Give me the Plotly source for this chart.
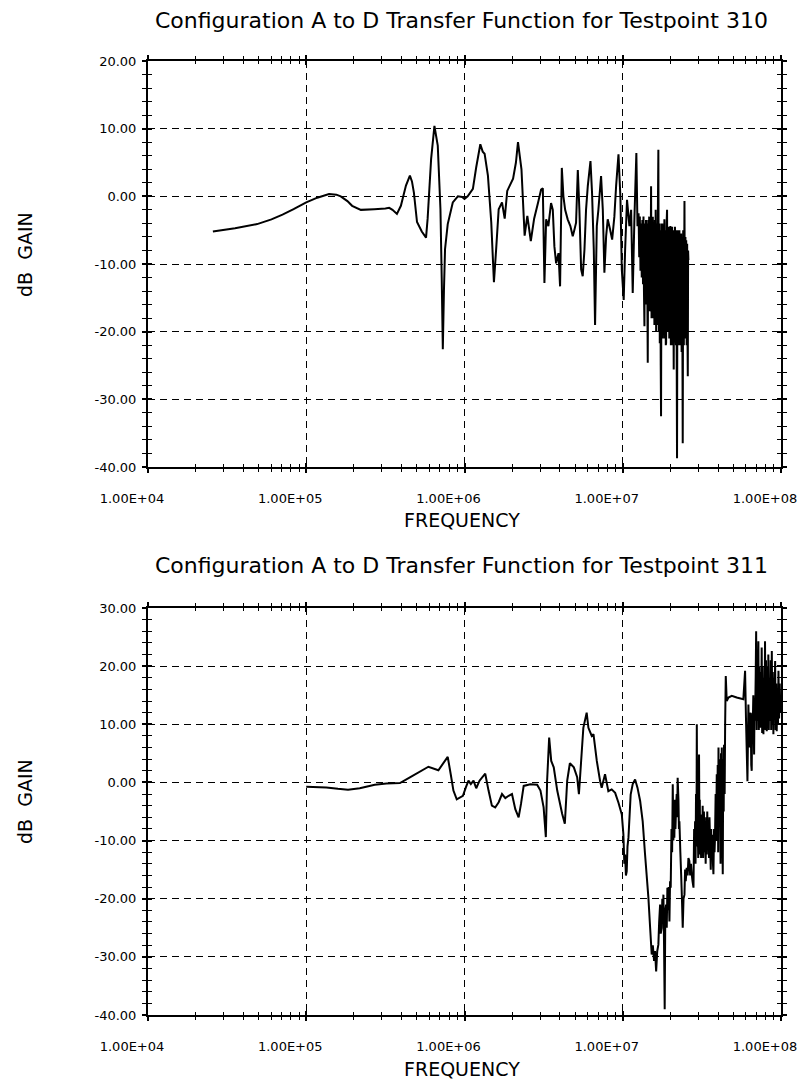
import numpy as np
import plotly.graph_objects as go

# ---------------------------------------------------------------------------
# Measured transfer functions (frequency given as log10 of Hz, gain in dB)
# ---------------------------------------------------------------------------
tp310_log10_hz = [
    4.41, 4.55, 4.69, 4.78, 4.85, 4.92, 5.00, 5.07, 5.144, 5.19,
    5.218, 5.26, 5.29, 5.345, 5.43, 5.50, 5.524, 5.545, 5.573, 5.598,
    5.63, 5.655, 5.668, 5.68, 5.70, 5.73, 5.757, 5.767, 5.789, 5.81,
    5.831, 5.848, 5.856, 5.863, 5.870, 5.877, 5.894, 5.926, 5.958, 5.985,
    6.000, 6.020, 6.053, 6.074, 6.100, 6.115, 6.127, 6.148, 6.169, 6.186,
    6.200, 6.216, 6.237, 6.254, 6.270, 6.307, 6.325, 6.338, 6.360, 6.380,
    6.397, 6.419, 6.440, 6.465, 6.484, 6.495, 6.505, 6.516, 6.530, 6.547,
    6.558, 6.568, 6.579, 6.594, 6.604, 6.615, 6.625, 6.636, 6.652, 6.669,
    6.684, 6.695, 6.705, 6.716, 6.726, 6.737, 6.747, 6.758, 6.768, 6.779,
    6.796, 6.806, 6.817, 6.825, 6.836, 6.846, 6.863, 6.874, 6.884, 6.895,
    6.905, 6.920, 6.933, 6.947, 6.958, 6.973, 6.985, 6.994, 7.006, 7.015,
    7.027, 7.042, 7.053, 7.063, 7.074, 7.086, 7.093,
    7.100, 7.104, 7.108, 7.112, 7.116, 7.120, 7.124, 7.128, 7.131, 7.134,
    7.137, 7.140, 7.143, 7.147, 7.150, 7.153, 7.156, 7.158, 7.161, 7.164,
    7.167, 7.169, 7.172, 7.175, 7.179, 7.182, 7.185, 7.188, 7.190, 7.193,
    7.196, 7.200, 7.203, 7.206, 7.208, 7.211, 7.214, 7.218, 7.221, 7.225,
    7.228, 7.231, 7.234, 7.237, 7.240, 7.242, 7.245, 7.248, 7.250, 7.253,
    7.256, 7.259, 7.263, 7.266, 7.269, 7.272, 7.274, 7.277, 7.280, 7.283,
    7.286, 7.288, 7.291, 7.294, 7.297, 7.299, 7.301, 7.304, 7.307, 7.310,
    7.312, 7.315, 7.318, 7.322, 7.325, 7.328, 7.330, 7.333, 7.336, 7.339,
    7.341, 7.343, 7.346, 7.349, 7.352, 7.355, 7.358, 7.360, 7.363, 7.366,
    7.369, 7.372, 7.375, 7.379, 7.382, 7.386, 7.390, 7.393, 7.396, 7.398,
    7.401, 7.404, 7.407, 7.409, 7.411, 7.413, 7.415,
]
tp310_gain_db = [
    -5.2, -4.7, -4.1, -3.4, -2.7, -1.9, -0.9, -0.2, 0.35, 0.25,
    0.0, -0.7, -1.4, -2.0, -1.9, -1.8, -1.7, -2.0, -2.6, -1.4,
    1.6, 3.05, 2.2, 0.6, -3.8, -5.2, -6.1, -3.3, 5.5, 10.4,
    7.5, -1.9, -12.0, -22.6, -14.0, -7.8, -4.1, -0.9, 0.0, -0.1,
    -0.4, 0.0, 1.1, 4.3, 7.7, 6.6, 6.3, 3.05, -3.8, -12.7,
    -7.8, -1.9, -0.9, -3.3, 0.8, 2.6, 5.0, 8.0, 4.0, -5.8,
    -2.9, -6.6, -3.3, -0.9, 1.0, 1.2, -12.8, -3.4, -4.4, -1.0,
    -2.0, -7.4, -9.9, -8.4, -13.3, 4.2, 0.0, -2.0, -3.4, -4.4,
    -5.9, -4.9, -3.9, 3.9, -2.0, -10.8, -11.8, -7.9, -2.0, 1.5,
    5.2, 0.5, -7.9, -19.0, -4.4, -2.0, 3.0, -2.0, -11.3, -5.9,
    -3.4, -4.9, -6.4, -3.0, 1.5, 6.2, 0.0, -10.8, -15.3, -7.9,
    -0.5, -4.4, -2.0, -14.3, -3.0, 6.4, -4.4,
    -2.5, -9.0, -3.0, -11.0, -4.0, -12.0, -3.5, -13.0, -3.0, -14.0,
    -19.2, -4.0, -15.0, -3.5, -16.0, -4.0, -17.0, -24.6, -3.5, -16.0,
    -3.0, -17.0, -4.0, -15.0, 1.5, -18.0, -4.0, -17.0, -3.0, -18.0,
    -4.0, -19.0, -3.5, -18.0, -2.0, -20.0, -4.0, -19.0, -5.0, 6.9,
    -20.0, -4.0, -21.7, -5.0, -25.0, -32.5, -4.0, -20.0, -4.0, -21.0,
    -5.0, -20.0, -3.4, -21.0, -5.0, -22.0, -21.7, -4.0, -2.0, -20.0,
    -5.0, -19.0, -4.5, -21.0, -5.0, -20.0, -4.4, -22.0, -5.0, -19.2,
    -4.5, -22.0, -5.0, -25.6, -5.0, -21.0, -4.5, -20.0, -22.0, -5.0,
    -24.0, -38.7, -5.0, -21.0, -5.5, -22.0, -5.0, -21.0, -6.0, -22.0,
    -5.5, -23.0, -6.0, -36.5, -5.0, -22.0, -0.7, -21.0, -6.0, -20.0,
    -6.5, -22.0, -7.0, -20.0, -26.6, -8.0, -9.4,
]

tp311_log10_hz = [
    5.000, 5.127, 5.200, 5.264, 5.338, 5.433, 5.507, 5.592, 5.655, 5.772,
    5.835, 5.894, 5.913, 5.930, 5.951, 5.990, 6.008, 6.025, 6.040, 6.057,
    6.074, 6.095, 6.131, 6.152, 6.173, 6.194, 6.216, 6.237, 6.258, 6.279,
    6.300, 6.321, 6.342, 6.357, 6.374, 6.416, 6.459, 6.480, 6.500, 6.514,
    6.522, 6.535, 6.548, 6.564, 6.586, 6.617, 6.634, 6.649, 6.666, 6.691,
    6.712, 6.723, 6.730, 6.751, 6.772, 6.783, 6.804, 6.815, 6.836, 6.857,
    6.867, 6.888, 6.909, 6.930, 6.952, 6.973, 6.994, 7.004, 7.010, 7.015,
    7.020, 7.025, 7.030, 7.036, 7.050, 7.063, 7.078, 7.093, 7.110, 7.126,
    7.141, 7.162, 7.173, 7.183, 7.190, 7.198, 7.204,
    7.211, 7.218, 7.225, 7.230, 7.236, 7.240, 7.246, 7.250, 7.254, 7.257,
    7.261, 7.265, 7.269, 7.274, 7.278, 7.282, 7.286, 7.290, 7.295, 7.299,
    7.303, 7.308, 7.312, 7.316, 7.320, 7.323, 7.326, 7.330, 7.333, 7.337,
    7.341, 7.344, 7.347, 7.352, 7.355, 7.358, 7.364, 7.369, 7.374, 7.379,
    7.384, 7.390, 7.394, 7.398, 7.404, 7.410, 7.415, 7.421, 7.426, 7.431,
    7.436, 7.441, 7.447,
    7.451, 7.455, 7.457, 7.460, 7.463, 7.466, 7.468, 7.471, 7.474, 7.477,
    7.480, 7.482, 7.485, 7.487, 7.489, 7.492, 7.495, 7.499, 7.502, 7.505,
    7.508, 7.510, 7.513, 7.517, 7.520, 7.524, 7.527, 7.531, 7.534, 7.538,
    7.541, 7.545, 7.548, 7.552, 7.556, 7.559, 7.562, 7.566, 7.570, 7.573,
    7.577, 7.580, 7.583, 7.587, 7.590, 7.594, 7.597, 7.600, 7.603, 7.605,
    7.608, 7.612, 7.615, 7.618, 7.621, 7.624, 7.626, 7.629, 7.632, 7.635,
    7.638, 7.640, 7.644, 7.647, 7.651,
    7.657, 7.668, 7.689, 7.720, 7.762, 7.773, 7.779, 7.788, 7.794,
    7.800, 7.804, 7.809, 7.812, 7.815, 7.818, 7.821, 7.825, 7.830, 7.833,
    7.836, 7.840, 7.843, 7.846, 7.849, 7.851, 7.854, 7.857, 7.860, 7.863,
    7.866, 7.868, 7.871, 7.875, 7.878, 7.881, 7.884, 7.887, 7.889, 7.892,
    7.896, 7.899, 7.902, 7.905, 7.908, 7.910, 7.914, 7.917, 7.920, 7.923,
    7.926, 7.929, 7.931, 7.935, 7.938, 7.942, 7.945, 7.948, 7.952, 7.955,
    7.958, 7.963, 7.966, 7.970, 7.973, 7.977, 7.981, 7.984, 7.988, 7.992,
    7.996, 7.999,
]
tp311_gain_db = [
    -0.74, -0.86, -1.1, -1.26, -1.0, -0.4, -0.17, -0.11, 0.86, 2.7,
    2.1, 4.4, 1.4, -1.4, -2.9, -2.3, -0.9, 0.3, -0.3, 0.3,
    -1.0, 0.3, 1.5, -1.4, -4.0, -4.3, -3.4, -2.0, -2.7, -2.3,
    -2.0, -4.6, -6.0, -3.7, -0.6, -0.3, -0.4, -1.4, -4.3, -9.4,
    0.3, 7.7, 3.7, 2.6, -1.4, -5.4, -7.1, 0.3, 3.3, 2.6,
    0.9, -2.0, 0.8, 9.4, 12.0, 9.4, 8.0, 8.3, 3.7, 0.2,
    -0.9, 1.4, -1.5, -1.2, -1.8, -3.5, -5.5, -8.9, -14.0, -12.4,
    -16.0, -15.3, -11.0, -9.5, -2.1, -0.3, 0.5, -0.9, -3.2, -6.7,
    -12.4, -19.8, -25.0, -29.6, -28.0, -30.7, -29.0,
    -32.5, -29.0, -27.9, -24.0, -21.0, -26.0, -25.0, -20.0, -24.0, -19.3,
    -28.0, -39.0, -22.0, -21.0, -25.0, -18.1, -22.0, -18.0, -23.9, -17.0,
    -18.1, -8.0, -12.0, -0.3, -10.0, -4.0, -9.5, -3.0, -8.0, -4.4,
    -2.0, -6.0, 0.8, -3.0, -8.0, -6.7, -12.0, -15.8, -20.0, -25.0,
    -20.0, -19.3, -15.0, -17.0, -14.7, -16.0, -13.0, -13.5, -16.0, -14.0,
    -15.8, -17.0, -18.1,
    -8.0, -12.0, -6.7, -14.0, -2.0, -9.0, 10.0, -11.0, -7.8, -13.0,
    0.0, 4.8, -10.0, -3.0, -12.4, -6.0, -13.0, -5.5, -11.0, -4.0,
    -13.0, -11.2, -5.0, -12.0, -7.2, -14.0, -6.0, -12.4, -5.0, -11.0,
    -7.8, -13.0, -6.0, -10.1, -15.0, -8.0, -12.4, -9.0, -14.0, -15.8,
    -8.0, -12.0, -9.5, -2.0, -10.0, 1.4, -8.0, 3.0, -12.0, 6.0,
    -6.0, 4.0, -3.2, -14.0, 5.0, -10.0, 6.0, -8.0, -15.8, 4.0,
    -5.0, 6.5, -2.0, 10.0, 18.3,
    14.0, 14.6, 14.9, 14.6, 14.3, 19.2, 10.6, 0.2, 13.4,
    6.0, 12.0, 10.6, 3.0, 2.0, 12.0, 8.8, 15.0, 4.8, 14.0,
    10.6, 18.0, 26.0, 9.0, 20.0, 10.6, 18.0, 24.3, 9.0, 20.0,
    12.0, 9.4, 19.0, 10.0, 23.2, 8.5, 20.0, 11.0, 8.3, 18.0,
    10.0, 24.3, 9.0, 21.0, 11.0, 8.8, 20.0, 10.0, 22.0, 9.0,
    18.0, 12.0, 10.6, 21.0, 9.0, 22.6, 10.0, 19.0, 8.3, 18.0,
    11.0, 20.9, 9.0, 17.0, 8.8, 16.0, 10.0, 19.2, 11.0, 17.0,
    12.0, 15.0,
]

# Axis annotation values
decade_hz = [1e4, 1e5, 1e6, 1e7, 1e8]
decade_labels = ["1.00E+04", "1.00E+05", "1.00E+06", "1.00E+07", "1.00E+08"]
minor_hz = [k * 10.0 ** d for d in range(4, 8) for k in range(2, 10)]

top_gain_ticks = [-40, -30, -20, -10, 0, 10, 20]
bottom_gain_ticks = [-40, -30, -20, -10, 0, 10, 20, 30]

titles = [
    "Configuration A to D Transfer Function for Testpoint 310",
    "Configuration A to D Transfer Function for Testpoint 311",
]

# ---------------------------------------------------------------------------
W, H = 802, 1082
FONT = "DejaVu Sans"
INK = "black"


def px_x(p):
    return p / W


def px_y(p):
    return 1 - p / H


X_DOMAIN = [px_x(148), px_x(781)]
TOP_DOMAIN = [px_y(467), px_y(61)]
BOT_DOMAIN = [px_y(1015), px_y(608)]

GRID = dict(showgrid=True, gridcolor=INK, gridwidth=1.3, griddash="7px,5px")


def gain_text(v):
    return f"{v:.2f}"


def freq_axis(domain, anchor, inside=False):
    """Log frequency axis; the 'inside' copy supplies the inward half of
    the crossing tick marks and carries no labels or grid."""
    ax = dict(
        type="log", range=[4, 8], domain=domain, anchor=anchor,
        automargin=False, tickmode="array", tickvals=decade_hz,
        ticks="inside" if inside else "outside", ticklen=4,
        tickwidth=1.5, tickcolor=INK, mirror="ticks", showline=True,
        linecolor=INK, linewidth=2, zeroline=False,
        minor=dict(tickmode="array", tickvals=minor_hz,
                   ticks="inside" if inside else "outside",
                   ticklen=3, tickwidth=1.2, tickcolor=INK, showgrid=False),
    )
    if inside:
        ax.update(showticklabels=False, showgrid=False)
    else:
        ax.update(ticktext=decade_labels,
                  tickfont=dict(family=FONT, size=13, color=INK),
                  ticklabelstandoff=14, ticklabelshift=-16, **GRID)
    return ax


def gain_axis(domain, anchor, rng, ticks, inside=False):
    ax = dict(
        range=rng, domain=domain, anchor=anchor, automargin=False,
        tickmode="array", tickvals=ticks,
        ticks="inside" if inside else "outside", ticklen=4,
        tickwidth=1.5, tickcolor=INK, mirror="ticks", showline=True,
        linecolor=INK, linewidth=2, zeroline=False,
        minor=dict(dtick=2, tick0=0, ticks="inside" if inside else "outside",
                   ticklen=4, tickwidth=1.2, tickcolor=INK, showgrid=False),
    )
    if inside:
        ax.update(showticklabels=False, showgrid=False)
    else:
        ax.update(ticktext=[gain_text(v) for v in ticks],
                  tickfont=dict(family=FONT, size=13, color=INK),
                  ticklabelstandoff=3, **GRID)
    return ax


fig = go.Figure()

freq310 = 10 ** np.array(tp310_log10_hz)
freq311 = 10 ** np.array(tp311_log10_hz)

line_style = dict(color=INK, width=2, simplify=False)
fig.add_trace(go.Scatter(
    x=freq310, y=tp310_gain_db,
    mode="lines", line=line_style, xaxis="x", yaxis="y", showlegend=False,
))
fig.add_trace(go.Scatter(
    x=freq311, y=tp311_gain_db,
    mode="lines", line=line_style, xaxis="x2", yaxis="y2", showlegend=False,
))
# transparent copies bind the inward-tick companion subplots so they get drawn
for xa, ya, fx, gy in [("x3", "y3", freq310, tp310_gain_db),
                       ("x4", "y4", freq311, tp311_gain_db)]:
    fig.add_trace(go.Scatter(x=fx, y=gy, xaxis=xa, yaxis=ya, mode="lines",
                             line=dict(width=0, color="rgba(0,0,0,0)"),
                             opacity=0, showlegend=False, hoverinfo="skip"))

fig.update_layout(
    template="none",
    width=W, height=H,
    margin=dict(l=0, r=0, t=0, b=0, pad=0),
    paper_bgcolor="white", plot_bgcolor="rgba(0,0,0,0)",
    xaxis=freq_axis(X_DOMAIN, "y"),
    yaxis=gain_axis(TOP_DOMAIN, "x", [-40, 20], top_gain_ticks),
    xaxis2=freq_axis(X_DOMAIN, "y2"),
    yaxis2=gain_axis(BOT_DOMAIN, "x2", [-40, 30], bottom_gain_ticks),
    xaxis3=freq_axis(X_DOMAIN, "y3", inside=True),
    yaxis3=gain_axis(TOP_DOMAIN, "x3", [-40, 20], top_gain_ticks, inside=True),
    xaxis4=freq_axis(X_DOMAIN, "y4", inside=True),
    yaxis4=gain_axis(BOT_DOMAIN, "x4", [-40, 30], bottom_gain_ticks, inside=True),
)

title_font = dict(family=FONT, size=22, color=INK)
label_font = dict(family=FONT, size=19, color=INK)
annotations = []
for title, ty in zip(titles, [20, 565]):
    annotations.append(dict(text=title, x=px_x(461), y=px_y(ty), xref="paper",
                            yref="paper", showarrow=False, xanchor="center",
                            yanchor="middle", font=title_font))
for fy in [520, 1069]:
    annotations.append(dict(text="FREQUENCY", x=px_x(462), y=px_y(fy), xref="paper",
                            yref="paper", showarrow=False, xanchor="center",
                            yanchor="middle", font=label_font))
for gy in [255, 802]:
    annotations.append(dict(text="dB  GAIN", x=px_x(25), y=px_y(gy), xref="paper",
                            yref="paper", showarrow=False, xanchor="center",
                            yanchor="middle", textangle=-90, font=label_font))
fig.update_layout(annotations=annotations)

fig.write_html("out.html")
